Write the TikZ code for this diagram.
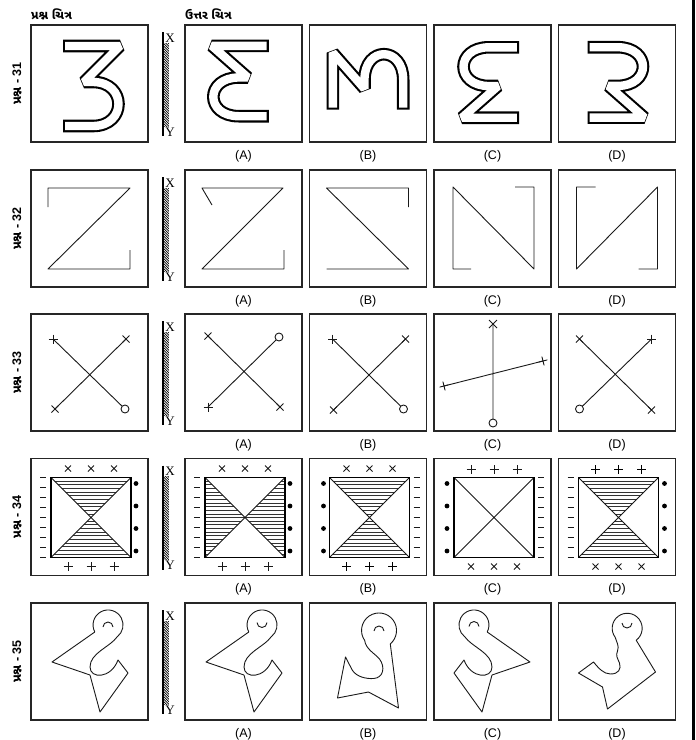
\documentclass[tikz,border=0pt]{standalone}
\usepackage{fontspec}
\setmainfont{Liberation Sans}
\newfontfamily\gujfont[Script=Gujarati]{Noto Sans Gujarati UI}
\newfontfamily\xyfont{Liberation Serif}

\tikzset{
  box/.style={draw=black!85, line width=1.1pt},
  frame/.style={draw=black, line width=1.3pt},
  fig/.style={draw=black!90, line width=0.9pt, line join=round},
  sym/.style={draw=black!90, line width=0.9pt},
  boldsym/.style={draw=black, line width=1.7pt},
  hatchline/.style={draw=black!80, line width=0.6pt},
  mirrorhatch/.style={draw=black, line width=0.7pt},
  mirror/.style={draw=black, line width=2pt},
  glyph/.style={draw=white, line width=8.4pt, line join=bevel,
    shorten <=2.1pt, shorten >=2.1pt,
    preaction={draw=black, line width=12.6pt, line join=bevel, shorten <=0pt, shorten >=0pt}},
  lab/.style={font=\fontsize{12.5}{14}\selectfont},
  xylab/.style={font=\xyfont\fontsize{13}{15}\selectfont, inner sep=0pt},
  rowlab/.style={font=\bfseries\fontsize{12.5}{14}\selectfont, rotate=90, inner sep=0pt},
  head/.style={font=\gujfont\bfseries\fontsize{12}{14}\selectfont, inner sep=0pt, anchor=west},
}

% outlined letter (centre of the glyph at the origin)
\newcommand{\ezh}{\draw[glyph] (-26.5,-37.5) -- (30.5,-37.5) -- (-5.5,-1.5) -- (3.5,-1.5)
  .. controls (37.5,-1.5) and (37.5,42.5) .. (3.5,42.5) -- (-26.5,42.5);}

% small marks
\newcommand{\plussign}[3][sym]{\draw[#1] (#2-4.5,#3) -- (#2+4.5,#3) (#2,#3-4.5) -- (#2,#3+4.5);}
\newcommand{\tiltplus}[3]{\draw[sym] (#1,#2) ++(#3:4.5) -- ++(#3+180:9) (#1,#2) ++(#3+90:4.5) -- ++(#3+270:9);}
\newcommand{\crosssign}[3][3.5]{\draw[sym] (#2-#1,#3-#1) -- (#2+#1,#3+#1) (#2-#1,#3+#1) -- (#2+#1,#3-#1);}
\newcommand{\ringsign}[2]{\draw[sym, fill=white] (#1,#2) circle[radius=4];}

% square with crossed diagonals
\newcommand{\sqbox}{\draw[sym] (20,19) -- (100,99) (20,99) -- (100,19);
  \draw[frame] (20,19) rectangle (100,99);}
\newcommand{\hatchtb}{\begin{scope}
  \clip (20,19) -- (100,19) -- (60,59) -- cycle (20,99) -- (100,99) -- (60,59) -- cycle;
  \foreach \k in {1,...,21} \draw[hatchline] (20,19+\k*3.636) -- (100,19+\k*3.636);
  \end{scope}}
\newcommand{\hatchlr}{\begin{scope}
  \clip (20,19) -- (20,99) -- (60,59) -- cycle (100,19) -- (100,99) -- (60,59) -- cycle;
  \foreach \k in {1,...,21} \draw[hatchline] (20,19+\k*3.636) -- (100,19+\k*3.636);
  \end{scope}}

% hook figure of question 35
\newcommand{\camfig}{%
  \draw[fig] (63.8,29) arc[start angle=152, end angle=413, radius=15]
    .. controls (79,44) and (59,50) .. (59,64)
    .. controls (59,76) and (80,76) .. (87,57) -- (97,70) -- (69,109) -- (59,72);
  \draw[fig] (63.8,29) -- (21,59) -- (59,72);}
\newcommand{\eyecap}[2]{\draw[fig] (#1-5,#2) arc[start angle=180, end angle=360, radius=5];}
\newcommand{\eyecup}[2]{\draw[fig] (#1+5,#2) arc[start angle=0, end angle=180, radius=5];}

\begin{document}
\begin{tikzpicture}[x=1pt, y=1pt, yscale=-1]
\useasboundingbox (0,0) rectangle (696,740);

% Column headings
\node[head] (qhead) at (31,14) {પ્રશ્ન ચિત્ર};
\node[head] (ahead) at (185,14) {ઉત્તર ચિત્ર};

% Right margin rule
\draw[line width=2.6pt] (693.5,0) -- (693.5,740);

% Frames, mirror and labels of every row
\foreach \ty/\num in {25/31, 170/32, 314/33, 458.5/34, 603/35} {
  \draw[box] (31,\ty) rectangle ++(117,117);
  \foreach \cx/\opt in {185/A, 309.5/B, 434/C, 558.5/D} {
    \draw[box] (\cx,\ty) rectangle ++(117,117);
    \node[lab] (opt\num\opt) at (\cx+58.5,\ty+131) {(\opt)};
  }
  \node[rowlab] (row\num) at (17,\ty+58.5) {{\gujfont પ્રશ્ન} - \num};
  % mirror
  \begin{scope}
    \clip (163.2,\ty+18) rectangle (168.8,\ty+101);
    \foreach \k in {0,...,35}
      \draw[mirrorhatch] (163.2,\ty+13+\k*2.5) -- ++(6,6);
  \end{scope}
  \draw[mirror] (162.5,\ty+7) -- (162.5,\ty+111);
  \node[xylab] (x\num) at (170,\ty+13) {X};
  \node[xylab] (y\num) at (170,\ty+107) {Y};
}

% Question 31
\begin{scope}[shift={(89.5,83.5)}] \ezh \end{scope}
\begin{scope}[shift={(242.3,78.8)}, xscale=-1, yscale=0.88] \ezh \end{scope}
\begin{scope}[shift={(365.8,83.2)}, rotate=-90, yscale=0.88] \ezh \end{scope}
\begin{scope}[shift={(492.5,84.7)}, rotate=180, yscale=0.88] \ezh \end{scope}
\begin{scope}[shift={(614,84.6)}, yscale=-0.88] \ezh \end{scope}

% Question 32
\begin{scope}[shift={(31,170)}]
  \draw[fig] (17,37) -- (17,18) -- (99,18) -- (17,99) -- (99,99) -- (99,80);
\end{scope}
\begin{scope}[shift={(185,170)}]
  \draw[fig] (27,35) -- (17,18) -- (98,18) -- (17,99) -- (99,99) -- (99,80);
\end{scope}
\begin{scope}[shift={(309.5,170)}]
  \draw[fig] (17,99) -- (99,99) -- (17,18) -- (99,18) -- (99,37);
\end{scope}
\begin{scope}[shift={(434,170)}]
  \draw[fig] (37,99) -- (19,99) -- (19,17) -- (100,99) -- (100,17) -- (81,17);
\end{scope}
\begin{scope}[shift={(558.5,170)}]
  \draw[fig] (37,17) -- (18,17) -- (18,99) -- (99,17) -- (99,99) -- (80,99);
\end{scope}

% Question 33
\begin{scope}[shift={(31,314)}]
  \draw[fig] (22,25) -- (94,95) (24,95) -- (95,25);
  \plussign{22}{25} \crosssign{95}{25} \crosssign{24}{95} \ringsign{94}{95}
\end{scope}
\begin{scope}[shift={(185,314)}]
  \draw[fig] (23,22) -- (95,93) (23,93) -- (94,23);
  \crosssign{23}{22} \crosssign{95}{93} \plussign{23}{93} \ringsign{94}{23}
\end{scope}
\begin{scope}[shift={(309.5,314)}]
  \draw[fig] (23,25) -- (94,95) (24,96) -- (96,25);
  \plussign{23}{25} \crosssign{96}{25} \crosssign{24}{96} \ringsign{94}{95}
\end{scope}
\begin{scope}[shift={(434,314)}]
  \draw[fig] (59,10) -- (59,109) (10,72) -- (109,47);
  \crosssign[4]{59}{10} \tiltplus{10}{72}{-14} \tiltplus{109}{47}{-14} \ringsign{59}{109}
\end{scope}
\begin{scope}[shift={(558.5,314)}]
  \draw[fig] (21,25) -- (93,96) (21,95) -- (93,25);
  \crosssign{21}{25} \crosssign{93}{96} \plussign{93}{25} \ringsign{21}{95}
\end{scope}

% Question 34
\begin{scope}[shift={(31,458.5)}]
  \hatchtb \sqbox
  \foreach \x in {37,60,83} {\crosssign[3]{\x}{10} \plussign{\x}{108}}
  \foreach \k in {0,...,8} \draw[sym] (9,19+\k*10) -- (15,19+\k*10);
  \foreach \k in {0,...,3} \fill (105,25+\k*22.5) circle[radius=2.4];
\end{scope}
\begin{scope}[shift={(185,458.5)}]
  \hatchlr \sqbox
  \foreach \x in {37,60,83} {\crosssign[3]{\x}{10} \plussign{\x}{108}}
  \foreach \k in {0,...,8} \draw[sym] (9,19+\k*10) -- (15,19+\k*10);
  \foreach \k in {0,...,3} \fill (105,25+\k*22.5) circle[radius=2.4];
\end{scope}
\begin{scope}[shift={(309.5,458.5)}]
  \hatchtb \sqbox
  \foreach \x in {37,60,83} {\crosssign[3]{\x}{10} \plussign[boldsym]{\x}{108}}
  \foreach \k in {0,...,8} \draw[sym] (104,19+\k*10) -- (110,19+\k*10);
  \foreach \k in {0,...,3} \fill (14,25+\k*22.5) circle[radius=2.4];
\end{scope}
\begin{scope}[shift={(434,458.5)}]
  \sqbox
  \foreach \x in {37,60,83} {\plussign{\x}{11} \crosssign[3]{\x}{108}}
  \foreach \k in {0,...,8} \draw[sym] (104,19+\k*10) -- (110,19+\k*10);
  \foreach \k in {0,...,3} \fill (13,25+\k*22.5) circle[radius=2.4];
\end{scope}
\begin{scope}[shift={(558.5,458.5)}]
  \hatchtb \sqbox
  \foreach \x in {37,60,83} {\plussign[boldsym]{\x}{11} \crosssign[3]{\x}{108}}
  \foreach \k in {0,...,8} \draw[sym] (9,19+\k*10) -- (15,19+\k*10);
  \foreach \k in {0,...,3} \fill (106,25+\k*22.5) circle[radius=2.4];
\end{scope}

% Question 35
\begin{scope}[shift={(31,603)}] \camfig \eyecap{77}{24} \end{scope}
\begin{scope}[shift={(185,603)}] \camfig \eyecup{77}{19.5} \end{scope}
\begin{scope}[shift={(309.5,603)}]
  \draw[fig] (55.2,37.5) arc[start angle=145, end angle=410, radius=17.5]
    -- (89,105) -- (59,89) -- (28,95) -- (36,54) -- (42.7,67)
    .. controls (47,74) and (57,76) .. (64,75.5)
    .. controls (74,75) and (76,64) .. (70,56)
    .. controls (66,51) and (56,46) .. cycle;
  \eyecap{69.5}{28}
\end{scope}
\begin{scope}[shift={(551,603)}, xscale=-1] \camfig \eyecap{77}{23.5} \end{scope}
\begin{scope}[shift={(558.5,603)}]
  \draw[fig] (56.7,34.3) arc[start angle=143, end angle=413, radius=15]
    -- (97,69) -- (49,106) -- (44,84) -- (20,70) -- (35,59)
    .. controls (40,65) and (45,71) .. (52,71)
    .. controls (60,71) and (63,66) .. (61,60)
    .. controls (59,55) and (57,53) .. (59,48)
    .. controls (61,43) and (58,39) .. cycle;
  \eyecup{68.5}{20}
\end{scope}

\end{tikzpicture}
\end{document}
